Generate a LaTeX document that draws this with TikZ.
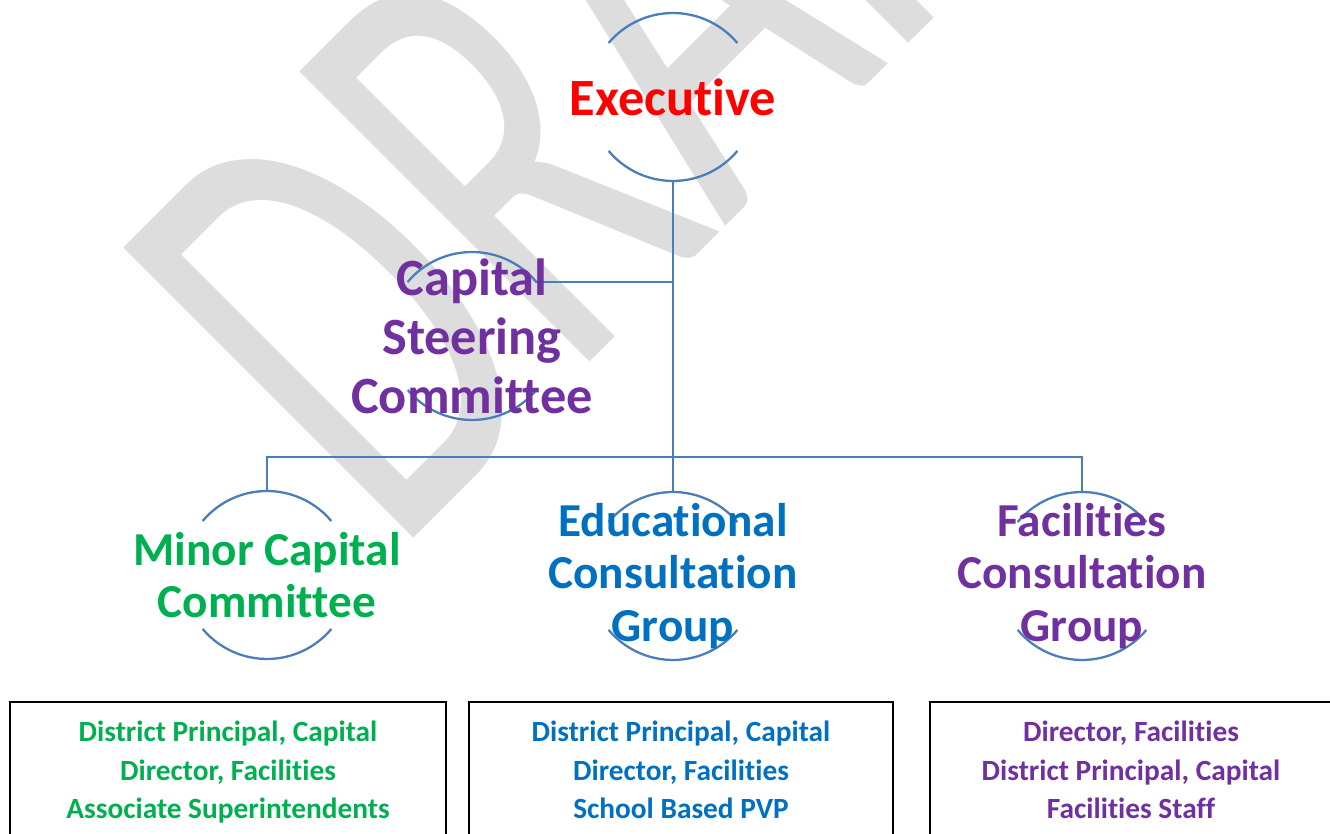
\documentclass[tikz,border=0pt]{standalone}
\usepackage{fontspec}
\setmainfont{Carlito}[Ligatures={NoCommon,NoContextual},RawFeature={-liga}]
\definecolor{execred}{HTML}{FF0000}
\definecolor{steerpurple}{HTML}{7030A0}
\definecolor{minorgreen}{HTML}{00B050}
\definecolor{edublue}{HTML}{0070C0}
\definecolor{linkblue}{HTML}{4A7EBB}
\definecolor{wmgray}{HTML}{DDDDDD}
\newcommand\topfont{\fontsize{29.8pt}{33.6pt}\selectfont\bfseries}
\newcommand\unitfont{\fontsize{26.9pt}{29.9pt}\selectfont\bfseries}
\newcommand\boxfont{\fontsize{16.7pt}{21.9pt}\selectfont\bfseries}
\tikzset{
  ring/.style={circle,minimum size=3.36cm,inner sep=0pt,outer sep=0pt},
  arcline/.style={linkblue,line width=1.3pt},
  link/.style={linkblue,line width=1.3pt},
  unit/.style={align=center,inner sep=0pt},
  members/.style={draw=black,line width=1.1pt,align=center,minimum height=2.72cm,inner sep=0pt,text depth=0pt},
  watermark/.style={wmgray,rotate=45,xscale=0.63,anchor=base west,inner sep=0pt,font=\fontsize{364pt}{364pt}\selectfont}
}
\begin{document}
\begin{tikzpicture}[x=0.02cm,y=0.02cm]
\useasboundingbox (0,0) rectangle (1330,834);
\clip (0,0) rectangle (1330,834);
% watermark
\node[watermark] (draft) at (394,276) {DRAFT};
% rings round the units
\node[ring] (execring) at (673,737) {};
\node[ring] (steerring) at (472,498) {};
\node[ring] (minorring) at (267,259) {};
\node[ring] (edring) at (673,258) {};
\node[ring] (facring) at (1082,258) {};
\foreach \r in {execring,steerring,minorring,edring,facring} {
  \draw[arcline] (\r.40) arc[start angle=40,end angle=140,radius=1.68cm];
  \draw[arcline] (\r.220) arc[start angle=220,end angle=320,radius=1.68cm];
}
% connectors
\coordinate (bus) at (673,377);
\draw[link] (execring.south) -- (edring.north);
\draw[link] (steerring.40) -- (steerring.40 -| execring.south);
\draw[link] (minorring.north) |- (bus) -| (facring.north);
% units
\node[unit,text=execred,font=\topfont] (exec) at (execring) {Executive};
\node[unit,text=steerpurple,font=\topfont] (steer) at (steerring) {Capital\\Steering\\Committee};
\node[unit,text=minorgreen,font=\unitfont] (minor) at (minorring) {Minor Capital\\Committee};
\node[unit,text=edublue,font=\unitfont] (ed) at (edring) {Educational\\Consultation\\Group};
\node[unit,text=steerpurple,font=\unitfont] (fac) at (facring) {Facilities\\Consultation\\Group};
% member boxes
\node[members,minimum width=8.72cm,text=minorgreen,font=\boxfont] (minorbox) at (228,64) {District Principal, Capital\\Director, Facilities\\Associate Superintendents};
\node[members,minimum width=8.48cm,text=edublue,font=\boxfont] (edbox) at (681,64) {District Principal, Capital\\Director, Facilities\\School Based PVP};
\node[members,minimum width=8.04cm,text=steerpurple,font=\boxfont] (facbox) at (1131,64) {Director, Facilities\\District Principal, Capital\\Facilities Staff};
\end{tikzpicture}
\end{document}
